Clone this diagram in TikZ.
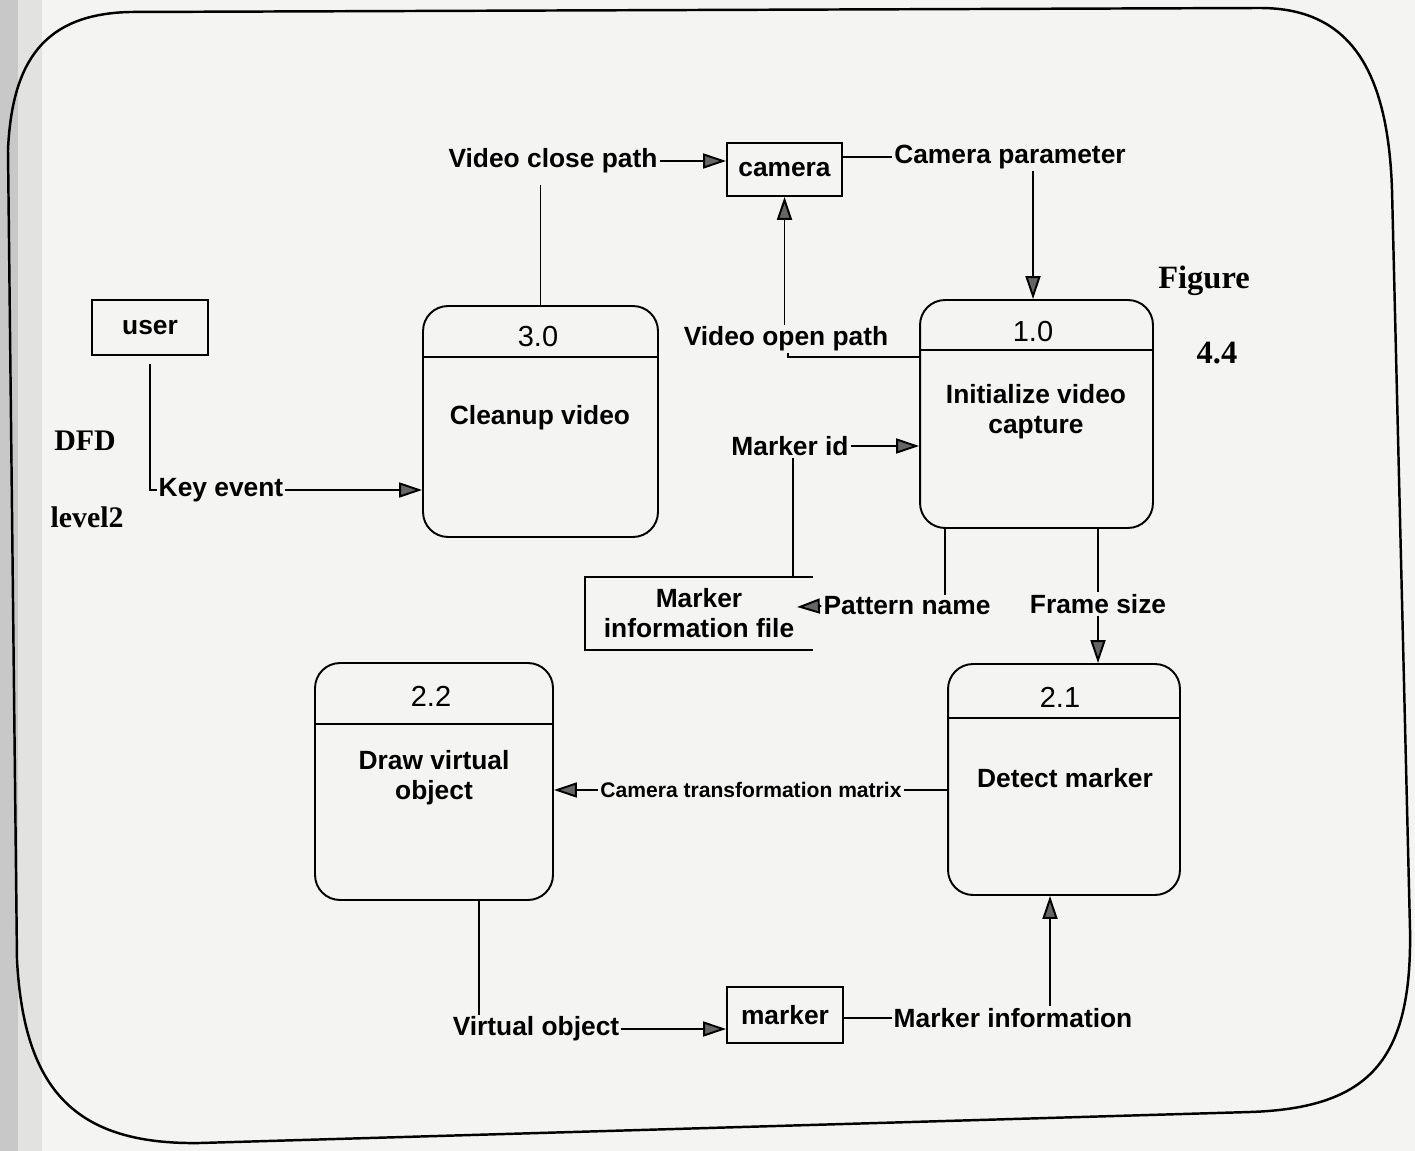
\documentclass[tikz,border=0pt]{standalone}
\usepackage{fontspec}
\setmainfont{Liberation Serif}
\newfontfamily\arialf{Liberation Sans}
\usetikzlibrary{arrows.meta,calc}
\definecolor{pagebg}{HTML}{F4F4F2}
\definecolor{stripA}{HTML}{C8C8C8}
\definecolor{stripB}{HTML}{E2E2E0}
\begin{document}
\begin{tikzpicture}[x=0.02cm,y=-0.02cm,
  lbl/.style={font=\arialf\bfseries\fontsize{15}{17}\selectfont, inner sep=1pt, align=center},
  smalllbl/.style={font=\arialf\bfseries\fontsize{12}{14}\selectfont, inner sep=1pt},
  numlbl/.style={font=\arialf\fontsize{16.5}{18}\selectfont, inner sep=1pt},
  serlbl/.style={font=\bfseries\fontsize{17}{19}\selectfont, inner sep=1pt},
  figlbl/.style={font=\bfseries\fontsize{18.5}{20}\selectfont, inner sep=1pt},
  entity/.style={draw, line width=1.1pt, inner sep=0pt, font=\arialf\bfseries\fontsize{15}{17}\selectfont},
  proc/.style={draw, line width=1.1pt, rounded corners=0.5cm, inner sep=0pt},
  ln/.style={line width=1.1pt},
  flow/.style={line width=1.1pt, -{Triangle[length=13pt,width=8.5pt,fill=black!60]}},
  frame/.style={line width=1.4pt}
]
\useasboundingbox (0,0) rectangle (1415,1151);
\fill[pagebg] (0,0) rectangle (1415,1151);
\fill[stripA] (0,0) rectangle (18,1151);
\fill[stripB] (18,0) rectangle (42,1151);

% outer frame
\draw[frame] (130,12) -- (1260,8) .. controls (1350,8) and (1388,70) .. (1392,190)
  -- (1410,930) .. controls (1412,1060) and (1370,1108) .. (1250,1112)
  -- (200,1143) .. controls (75,1145) and (24,1090) .. (17,960)
  -- (8,150) .. controls (12,60) and (45,14) .. (130,12) -- cycle;

% entities
\node[entity, minimum width=2.3cm, minimum height=1.06cm] (camera) at (784.5,169.5) {camera};
\node[entity, minimum width=2.32cm, minimum height=1.1cm] (user) at (150,327.5) {user};
\node[entity, minimum width=2.32cm, minimum height=1.12cm] (marker) at (785,1015) {marker};

% data store
\node[lbl, minimum width=4.56cm, minimum height=1.46cm] (store) at (699,613.5) {Marker\\information file};
\draw[ln] (store.north east) -- (store.north west) -- (store.south west) -- (store.south east);

% processes
\node[proc, minimum width=4.7cm, minimum height=4.62cm] (p30) at (540.5,421.5) {};
\draw[ln] (p30.west |- 0,357) -- (p30.east |- 0,357);
\node[numlbl] (p30n) at (538,337) {3.0};
\node[lbl] (p30t) at (540,418) {Cleanup video};

\node[proc, minimum width=4.66cm, minimum height=4.56cm] (p10) at (1036.5,414) {};
\draw[ln] (p10.west |- 0,350) -- (p10.east |- 0,350);
\node[numlbl] (p10n) at (1033,332) {1.0};
\node[lbl] (p10t) at (1036,412) {Initialize video\\capture};

\node[proc, minimum width=4.76cm, minimum height=4.74cm] (p22) at (434,781.5) {};
\draw[ln] (p22.west |- 0,724) -- (p22.east |- 0,724);
\node[numlbl] (p22n) at (431,696) {2.2};
\node[lbl] (p22t) at (434,778) {Draw virtual\\object};

\node[proc, minimum width=4.64cm, minimum height=4.62cm] (p21) at (1064,779.5) {};
\draw[ln] (p21.west |- 0,718) -- (p21.east |- 0,718);
\node[numlbl] (p21n) at (1060,697) {2.1};
\node[lbl] (p21t) at (1065,778) {Detect marker};

% side titles
\node[serlbl] (dfd) at (85,441) {DFD};
\node[serlbl] (lvl) at (87,517) {level2};
\node[figlbl] (fig) at (1204,281) {Figure};
\node[figlbl] (fignum) at (1217,353) {4.4};

% flow labels
\node[lbl] (vcp) at (553,161) {Video close path};
\node[lbl] (cp) at (1010,157) {Camera parameter};
\node[lbl] (vop) at (786,339) {Video open path};
\node[lbl] (mid) at (790,446) {Marker id};
\node[lbl] (pn) at (907,606) {Pattern name};
\node[lbl] (fs) at (1098,604) {Frame size};
\node[smalllbl] (ctm) at (751,790) {Camera transformation matrix};
\node[lbl] (vo) at (536,1029) {Virtual object};
\node[lbl] (mi) at (1013,1018) {Marker information};
\node[lbl] (ke) at (221,490) {Key event};
\coordinate (pntip) at (797,607);

% connectors
\draw[ln] (p30.north) -- (p30.north |- 0,185);
\draw[flow] (vcp.east) -- (vcp.east -| camera.west);

\draw[ln] (camera.east |- cp.west) -- (cp.west);
\draw[flow] (cp.south -| 1033,0) -- (p10.north -| 1033,0);

\draw[ln] (p10.west |- 0,357) -- (788,357) -- (788,357 |- vop.south);
\draw[flow] (vop.north -| camera.south) -- (camera.south);

\draw[ln] (store.north -| 793,0) -- (mid.south -| 793,0);
\draw[flow] (mid.east) -- (mid.east -| p10.west);

\draw[ln] (p10.south -| 945,0) -- (pn.north -| 945,0);
\draw[flow] (pn.west) -- (pntip);

\draw[ln] (p10.south -| fs.north) -- (fs.north);
\draw[flow] (fs.south) -- (fs.south |- p21.north);

\draw[ln] (p21.west |- ctm.east) -- (ctm.east);
\draw[flow] (ctm.west) -- (ctm.west -| p22.east);

\draw[ln] (p22.south -| 479,0) -- (vo.north -| 479,0);
\draw[flow] (vo.east) -- (vo.east -| marker.west);

\draw[ln] (marker.east |- mi.west) -- (mi.west);
\draw[flow] (mi.north -| 1050,0) -- (p21.south -| 1050,0);

\draw[ln] (user.south |- 0,364) |- (ke.west);
\draw[flow] (ke.east) -- (ke.east -| p30.west);
\end{tikzpicture}
\end{document}
